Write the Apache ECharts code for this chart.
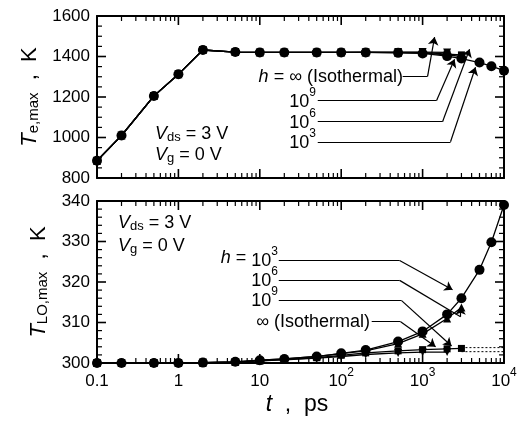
<!DOCTYPE html>
<html><head><meta charset="utf-8">
<script src="https://cdn.jsdelivr.net/npm/echarts@6/dist/echarts.min.js"></script>
<style>html,body{margin:0;padding:0;background:#fff}#c{width:526px;height:423px}</style>
</head><body><div id="c"></div>
<script>
// ---- data ----
const times = [0.1,0.2,0.5,1,2,5,10,20,50,100,200,500,1000,2000,3000,5000,7000,10000];
// top panel: T_e,max (K)
const teH3  = [885,1010,1205,1312,1432,1422,1420,1420,1420,1420,1420,1418,1415,1402,1390,1370,1352,1330];
const teH6  = [885,1010,1205,1312,1432,1422,1420,1420,1420,1420,1420,1419,1417,1408,1400];
const teH9  = [885,1010,1205,1312,1432,1422,1420,1420,1420,1420,1420,1420,1420,1412,1408];
const teIso = [885,1010,1205,1312,1432,1422,1420,1420,1420,1420,1421,1422,1422,1420];
// bottom panel: T_LO,max (K)
const tloH3  = [300,300,300,300,300.1,300.3,300.7,301.0,301.6,302.4,303.2,305.3,307.8,312.0,316.0,323.0,329.8,339.0];
const tloH6  = [300,300,300,300,300.1,300.3,300.7,301.0,301.6,302.3,303.0,304.8,307.2,311.0,313.7];
const tloH9  = [300,300,300,300,300.1,300.2,300.5,300.9,301.3,301.9,302.5,303.0,303.3,303.5,303.6];
const tloIso = [300,300,300,300,300.1,300.2,300.5,300.8,301.2,301.6,302.1,302.5,302.7,302.7];
const dotT = [3000,10000];
const dotA = [303.8,303.8];
const dotB = [302.8,302.8];
// tick values
const xTicks = [0.1,1,10,100,1000,10000];
const teTicks = [800,1000,1200,1400,1600];
const tloTicks = [300,310,320,330,340];
// annotation leader lines (data coords)
const annTop = [
  [[569,1302],[1151,1302],[1403,1496]],
  [[51.5,1183],[1486,1183],[2470,1386]],
  [[51.5,1078],[1758,1078],[3776,1436]],
  [[51.5,979],[2203,979],[4467,1347]]
];
const annBot = [
  [[17.1,325.3],[522,325.3],[2333,318.1]],
  [[17.1,320.4],[522,320.4],[2924,311.4],[2924,313.9]],
  [[17.1,315.4],[552,315.4],[2270,304.2]],
  [[237,310.2],[537,310.2],[1445,304.0]]
];

const FONT = 'Liberation Sans, Arial, sans-serif';
const XMIN = xTicks[0], XMAX = xTicks[xTicks.length-1];
const MAJOR = 9, MINOR = 5;

// tick position lists (axis furniture, not data)
const xMinor = [];
for (let i = 0; i < xTicks.length - 1; i++) for (let k = 2; k <= 9; k++) xMinor.push(xTicks[i] * k);
function yMinorList(ticks, split){
  const out = [];
  for (let i = 0; i < ticks.length - 1; i++) {
    const step = (ticks[i+1] - ticks[i]) / split;
    for (let k = 1; k < split; k++) out.push(ticks[i] + k * step);
  }
  return out;
}

function pairs(xs, ys){ return ys.map((y,i)=>[xs[i], y]); }

function logLabel(v){
  if (v < 0.5) return '{b|0.1}';
  if (Math.abs(v-1) < 1e-9) return '{b|1}';
  if (Math.abs(v-10) < 1e-9) return '{b|10}';
  return '{b|10}{s|' + Math.round(Math.log10(v)) + '}';
}
const xRich = {
  b: {fontSize: 17, fontFamily: FONT, color: '#000', padding: [6,0,0,0], verticalAlign: 'bottom'},
  s: {fontSize: 12, fontFamily: FONT, color: '#000', verticalAlign: 'top'}
};

function logX(grid, pos, labels){
  return {type:'log', gridIndex: grid, position: pos, min: XMIN, max: XMAX, logBase: 10,
    axisLine:{show:true, onZero:false, lineStyle:{color:'#000', width:2}},
    axisTick:{show:false}, splitLine:{show:false},
    axisLabel:{show: labels, margin: 4, formatter: logLabel, rich: xRich, color:'#000'}
  };
}
function valY(grid, pos, ticks, interval, labels, name){
  const ax = {type:'value', gridIndex: grid, position: pos, min: ticks[0], max: ticks[ticks.length-1], interval,
    axisLine:{show:true, onZero:false, lineStyle:{color:'#000', width:2}},
    axisTick:{show:false}, splitLine:{show:false},
    axisLabel:{show: labels, margin: 7, fontSize: 17, fontFamily: FONT, color:'#000', formatter: v => String(v)}
  };
  if (name) {
    ax.name = name.text; ax.nameLocation = 'middle'; ax.nameGap = name.gap; ax.nameRotate = 90;
    ax.nameTextStyle = {rich: {
      i:{fontSize:22, fontStyle:'italic', fontFamily: FONT, color:'#000'},
      s:{fontSize:15, fontFamily: FONT, color:'#000', verticalAlign:'bottom', padding:[8,0,0,0]},
      n:{fontSize:22, fontFamily: FONT, color:'#000'}
    }};
  }
  return ax;
}

// inside ticks on all four sides, placed through the axes' own scales
function xTickSeries(xi, yi, ymin, ymax){
  const data = xTicks.map(t => [t, ymin, MAJOR]).concat(xMinor.map(t => [t, ymin, MINOR]));
  return {type:'custom', coordinateSystem:'cartesian2d', xAxisIndex: xi, yAxisIndex: yi, silent:true, z: 7,
    animation:false, data, encode:{x:0, y:1},
    renderItem(params, api){
      const len = api.value(2);
      const pb = api.coord([api.value(0), ymin]);
      const pt = api.coord([api.value(0), ymax]);
      const st = {stroke:'#000', lineWidth: len === MAJOR ? 1.6 : 1.2};
      return {type:'group', children:[
        {type:'line', shape:{x1:pb[0], y1:pb[1], x2:pb[0], y2:pb[1]-len}, style:st},
        {type:'line', shape:{x1:pt[0], y1:pt[1], x2:pt[0], y2:pt[1]+len}, style:st}
      ]};
    }
  };
}
function yTickSeries(xi, yi, ticks, split){
  const data = ticks.map(v => [XMIN, v, MAJOR]).concat(yMinorList(ticks, split).map(v => [XMIN, v, MINOR]));
  return {type:'custom', coordinateSystem:'cartesian2d', xAxisIndex: xi, yAxisIndex: yi, silent:true, z: 7,
    animation:false, data, encode:{x:0, y:1},
    renderItem(params, api){
      const len = api.value(2);
      const pl = api.coord([XMIN, api.value(1)]);
      const pr = api.coord([XMAX, api.value(1)]);
      const st = {stroke:'#000', lineWidth: len === MAJOR ? 1.6 : 1.2};
      return {type:'group', children:[
        {type:'line', shape:{x1:pl[0], y1:pl[1], x2:pl[0]+len, y2:pl[1]}, style:st},
        {type:'line', shape:{x1:pr[0], y1:pr[1], x2:pr[0]-len, y2:pr[1]}, style:st}
      ]};
    }
  };
}

function dataSeries(xi, yi, ys, symbol, size, rot){
  return {type:'line', xAxisIndex: xi, yAxisIndex: yi, data: pairs(times, ys),
    symbol, symbolSize: size, symbolRotate: rot || 0, showSymbol: true,
    lineStyle:{color:'#000', width:1.3}, itemStyle:{color:'#000'}, z: 5, animation:false};
}
function annSeries(xi, yi, paths){
  const plain = [], arrows = [];
  paths.forEach(p => {
    for (let i = 0; i < p.length - 1; i++) {
      (i === p.length - 2 ? arrows : plain).push({coords: [p[i], p[i+1]]});
    }
  });
  return [
    {type:'lines', coordinateSystem:'cartesian2d', xAxisIndex: xi, yAxisIndex: yi, data: plain,
      symbol:['none','none'], lineStyle:{color:'#000', width:1.2, opacity:1, curveness:0}, animation:false, z:6},
    {type:'lines', coordinateSystem:'cartesian2d', xAxisIndex: xi, yAxisIndex: yi, data: arrows,
      symbol:['none','arrow'], symbolSize: 8, lineStyle:{color:'#000', width:1.2, opacity:1, curveness:0}, animation:false, z:6}
  ];
}

const txtRich = {
  i:{fontSize:18, fontStyle:'italic', fontFamily: FONT, fill:'#000'},
  n:{fontSize:18, fontFamily: FONT, fill:'#000'},
  sub:{fontSize:13, fontFamily: FONT, fill:'#000', verticalAlign:'bottom', padding:[7,0,0,0]},
  sup:{fontSize:12, fontFamily: FONT, fill:'#000', verticalAlign:'top'},
  b:{fontSize:18, fontFamily: FONT, fill:'#000', verticalAlign:'bottom', padding:[6,0,0,0]}
};
function txt(x, y, text, align){
  return {type:'text', x, y, z: 10, style:{text, rich: txtRich, align: align || 'left', verticalAlign:'middle',
    fontSize: 18, fontFamily: FONT, fill:'#000'}};
}

const option = {
  animation:false,
  grid:[
    {left:97, top:16, width:407, height:162},
    {left:97, top:201, width:407, height:162}
  ],
  xAxis:[
    logX(0,'bottom',false), logX(0,'top',false), logX(1,'bottom',true), logX(1,'top',false)
  ],
  yAxis:[
    valY(0,'left',teTicks,200,true,{text:'{i|T}{s|e,max}{n|  ,  K}', gap:50}),
    valY(0,'right',teTicks,200,false),
    valY(1,'left',tloTicks,10,true,{text:'{i|T}{s|LO,max}{n|  ,  K}', gap:46}),
    valY(1,'right',tloTicks,10,false)
  ],
  series:[
    xTickSeries(0,0,teTicks[0],teTicks[teTicks.length-1]),
    yTickSeries(0,0,teTicks,4),
    xTickSeries(2,2,tloTicks[0],tloTicks[tloTicks.length-1]),
    yTickSeries(2,2,tloTicks,5),
    dataSeries(0,0,teIso,'triangle',8,180),
    dataSeries(0,0,teH9,'rect',7),
    dataSeries(0,0,teH6,'triangle',8),
    dataSeries(0,0,teH3,'circle',10),
    dataSeries(2,2,tloIso,'triangle',8,180),
    dataSeries(2,2,tloH9,'rect',7),
    dataSeries(2,2,tloH6,'triangle',8),
    dataSeries(2,2,tloH3,'circle',10),
    {type:'line', xAxisIndex:2, yAxisIndex:2, data: pairs(dotT, dotA), symbol:'none',
      lineStyle:{color:'#000', width:1, type:[2,2]}, animation:false},
    {type:'line', xAxisIndex:2, yAxisIndex:2, data: pairs(dotT, dotB), symbol:'none',
      lineStyle:{color:'#000', width:1, type:[2,2]}, animation:false},
    ...annSeries(0,0,annTop),
    ...annSeries(2,2,annBot)
  ],
  graphic:[
    txt(403, 77, '{i|h}{n| = ∞ (Isothermal)}', 'right'),
    txt(316, 99, '{b|10}{sup|9}', 'right'),
    txt(316, 120, '{b|10}{sup|6}', 'right'),
    txt(316, 140, '{b|10}{sup|3}', 'right'),
    txt(155, 134, '{i|V}{sub|ds}{n| = 3 V}'),
    txt(155, 155, '{i|V}{sub|g}{n| = 0 V}'),
    txt(118, 223, '{i|V}{sub|ds}{n| = 3 V}'),
    txt(118, 246, '{i|V}{sub|g}{n| = 0 V}'),
    txt(278, 258, '{i|h}{n| = }{b|10}{sup|3}', 'right'),
    txt(278, 278, '{b|10}{sup|6}', 'right'),
    txt(278, 298, '{b|10}{sup|9}', 'right'),
    txt(370, 322, '{n|∞ (Isothermal)}', 'right'),
    {type:'text', x: 297, y: 405, z:10, style:{text:'{i|t}{n|  ,  ps}', align:'center', verticalAlign:'middle',
      rich:{i:{fontSize:23, fontStyle:'italic', fontFamily: FONT, fill:'#000'}, n:{fontSize:23, fontFamily: FONT, fill:'#000'}}}}
  ]
};
const chart = echarts.init(document.getElementById('c'), null, {renderer:'canvas'});
chart.setOption(option);
</script></body></html>
